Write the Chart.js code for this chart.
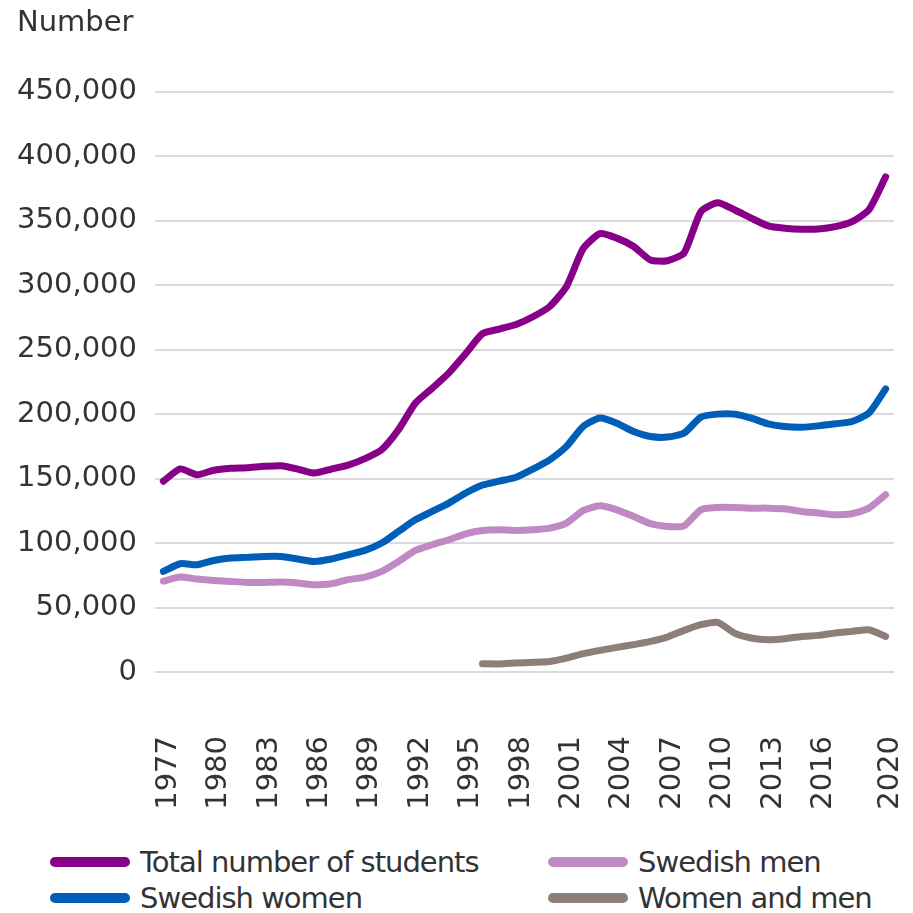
<!DOCTYPE html>
<html>
<head>
<meta charset="utf-8">
<script src="https://cdn.jsdelivr.net/npm/chart.js@4"></script>
<style>
  html, body { margin: 0; padding: 0; background: #fff; }
  #wrap { position: relative; width: 913px; height: 913px; }
  #chart-box { position: absolute; left: 0; top: 0; width: 913px; height: 815px; }
  #legend {
    position: absolute; left: 50px; top: 844px;
    display: grid; grid-template-columns: 498px 330px; grid-auto-rows: 36px;
    font-family: "DejaVu Sans", sans-serif; font-size: 29px; letter-spacing: -1px;
    color: #333;
  }
  .item { display: flex; align-items: center; white-space: nowrap; }
  .swatch { display: inline-block; width: 80px; height: 10px; border-radius: 5px; margin-right: 10px; }
</style>
</head>
<body>
<div id="wrap">
  <div id="chart-box"><canvas id="students-chart"></canvas></div>
  <div id="legend"></div>
</div>
<script>
const years = [
  '1977', '1978', '1979', '1980', '1981', '1982', '1983', '1984', '1985', '1986',
  '1987', '1988', '1989', '1990', '1991', '1992', '1993', '1994', '1995', '1996',
  '1997', '1998', '1999', '2000', '2001', '2002', '2003', '2004', '2005', '2006',
  '2007', '2008', '2009', '2010', '2011', '2012', '2013', '2014', '2015', '2016',
  '2017', '2018', '2019', '2020'
];

// years that get a label under the axis
const shownYears = ['1977', '1980', '1983', '1986', '1989', '1992', '1995', '1998',
  '2001', '2004', '2007', '2010', '2013', '2016', '2020'];

const total = [
  148000, 157500, 153000, 156500, 158000, 158500, 159500, 160000, 157400, 154300,
  157400, 160500, 165500, 172500, 188000, 208500, 220000, 232000, 247000, 262500,
  266000, 269500, 275500, 283500, 299000, 328500, 340000, 336500, 330000, 319500,
  319000, 325000, 357000, 364000, 358500, 352000, 346000, 344200, 343400, 343600,
  345400, 349300, 358400, 384000
];

const swedishWomen = [
  78000, 84000, 83200, 86500, 88400, 88900, 89600, 89600, 87600, 85700,
  87600, 90900, 94300, 100000, 109000, 118000, 124500, 131000, 138800, 145000,
  148000, 151000, 157400, 164600, 175000, 190500, 197000, 193000, 186500, 182600,
  182200, 185300, 197700, 200000, 200000, 196900, 192500, 190400, 189900, 190900,
  192500, 194300, 200800, 219500
];

const swedishMen = [
  70500, 73600, 72100, 71000, 70200, 69500, 69500, 69800, 69000, 67700,
  68500, 71600, 73600, 78000, 85700, 94300, 98700, 102600, 107200, 109800,
  110300, 109800, 110300, 111600, 115500, 125300, 128900, 125800, 120600, 115000,
  112900, 113400, 125800, 127600, 127600, 127100, 127100, 126600, 124500, 123300,
  121900, 122700, 127100, 137500
];

const womenAndMen = [
  null, null, null, null, null, null, null, null, null, null,
  null, null, null, null, null, null, null, null, null, 6400,
  6300, 7000, 7500, 8200, 10800, 14200, 16800, 19100, 21200, 23700,
  27100, 32300, 36700, 38500, 30200, 26400, 25000, 25800, 27600, 28400,
  30200, 31500, 32800, 27600
];

const seriesNames = ['Total number of students', 'Swedish men', 'Swedish women', 'Women and men'];
const seriesColors = ['#880088', '#c189c4', '#005eb8', '#8e7e7a'];
const yTicks = [0, 50000, 100000, 150000, 200000, 250000, 300000, 350000, 400000, 450000];

function lineSet(label, values, color) {
    return {
        label: label,
        data: values,
        borderColor: color,
        backgroundColor: color,
        borderWidth: 7,
        borderCapStyle: 'round',
        borderJoinStyle: 'round',
        pointRadius: 0,
        tension: 0.2,
        spanGaps: false
    };
}

function createLineChart() {
    const ctx = document.getElementById('students-chart');
    Chart.defaults.font.family = "DejaVu Sans";
    Chart.defaults.color = '#333';
    new Chart(ctx, {
        type: 'line',
        data: {
            labels: years,
            datasets: [
                lineSet(seriesNames[3], womenAndMen, seriesColors[3]),
                lineSet(seriesNames[1], swedishMen, seriesColors[1]),
                lineSet(seriesNames[2], swedishWomen, seriesColors[2]),
                lineSet(seriesNames[0], total, seriesColors[0])
            ]
        },
        options: {
            responsive: true,
            maintainAspectRatio: false,
            animation: false,
            devicePixelRatio: 1,
            layout: { padding: { left: 17, right: 19, top: 0, bottom: 0 } },
            plugins: {
                legend: { display: false },
                tooltip: { enabled: false },
                title: {
                    display: true,
                    text: 'Number',
                    align: 'start',
                    color: '#333',
                    font: { size: 29, weight: 'normal' },
                    padding: { top: 6, bottom: 51 }
                }
            },
            scales: {
                x: {
                    offset: true,
                    grid: { display: false, drawTicks: false },
                    border: { display: false },
                    afterFit: axis => {
                        axis.height = 143;
                        axis.paddingLeft = 0;
                        axis.paddingRight = 0;
                    },
                    ticks: {
                        autoSkip: false,
                        maxRotation: 90,
                        minRotation: 90,
                        padding: 64,
                        labelOffset: 5,
                        color: '#333',
                        font: { size: 29 },
                        callback: function (value, index) {
                            const y = years[index];
                            return shownYears.includes(y) ? y : '';
                        }
                    }
                },
                y: {
                    min: 0,
                    max: 450000,
                    afterBuildTicks: axis => { axis.ticks = yTicks.map(v => ({ value: v })); },
                    afterFit: axis => { axis.width = 138; },
                    grid: { color: '#dadada', lineWidth: 2, drawTicks: false },
                    border: { display: false },
                    ticks: {
                        padding: 18,
                        color: '#333',
                        font: { size: 29 },
                        callback: v => v.toLocaleString('en-US')
                    }
                }
            }
        }
    });

    // legend below the chart, two columns like the original
    const legend = document.getElementById('legend');
    seriesNames.forEach((name, i) => {
        const item = document.createElement('div');
        item.className = 'item';
        item.innerHTML = '<span class="swatch" style="background:' + seriesColors[i] + '"></span>' + name;
        legend.appendChild(item);
    });
}

createLineChart();
</script>
</body>
</html>
